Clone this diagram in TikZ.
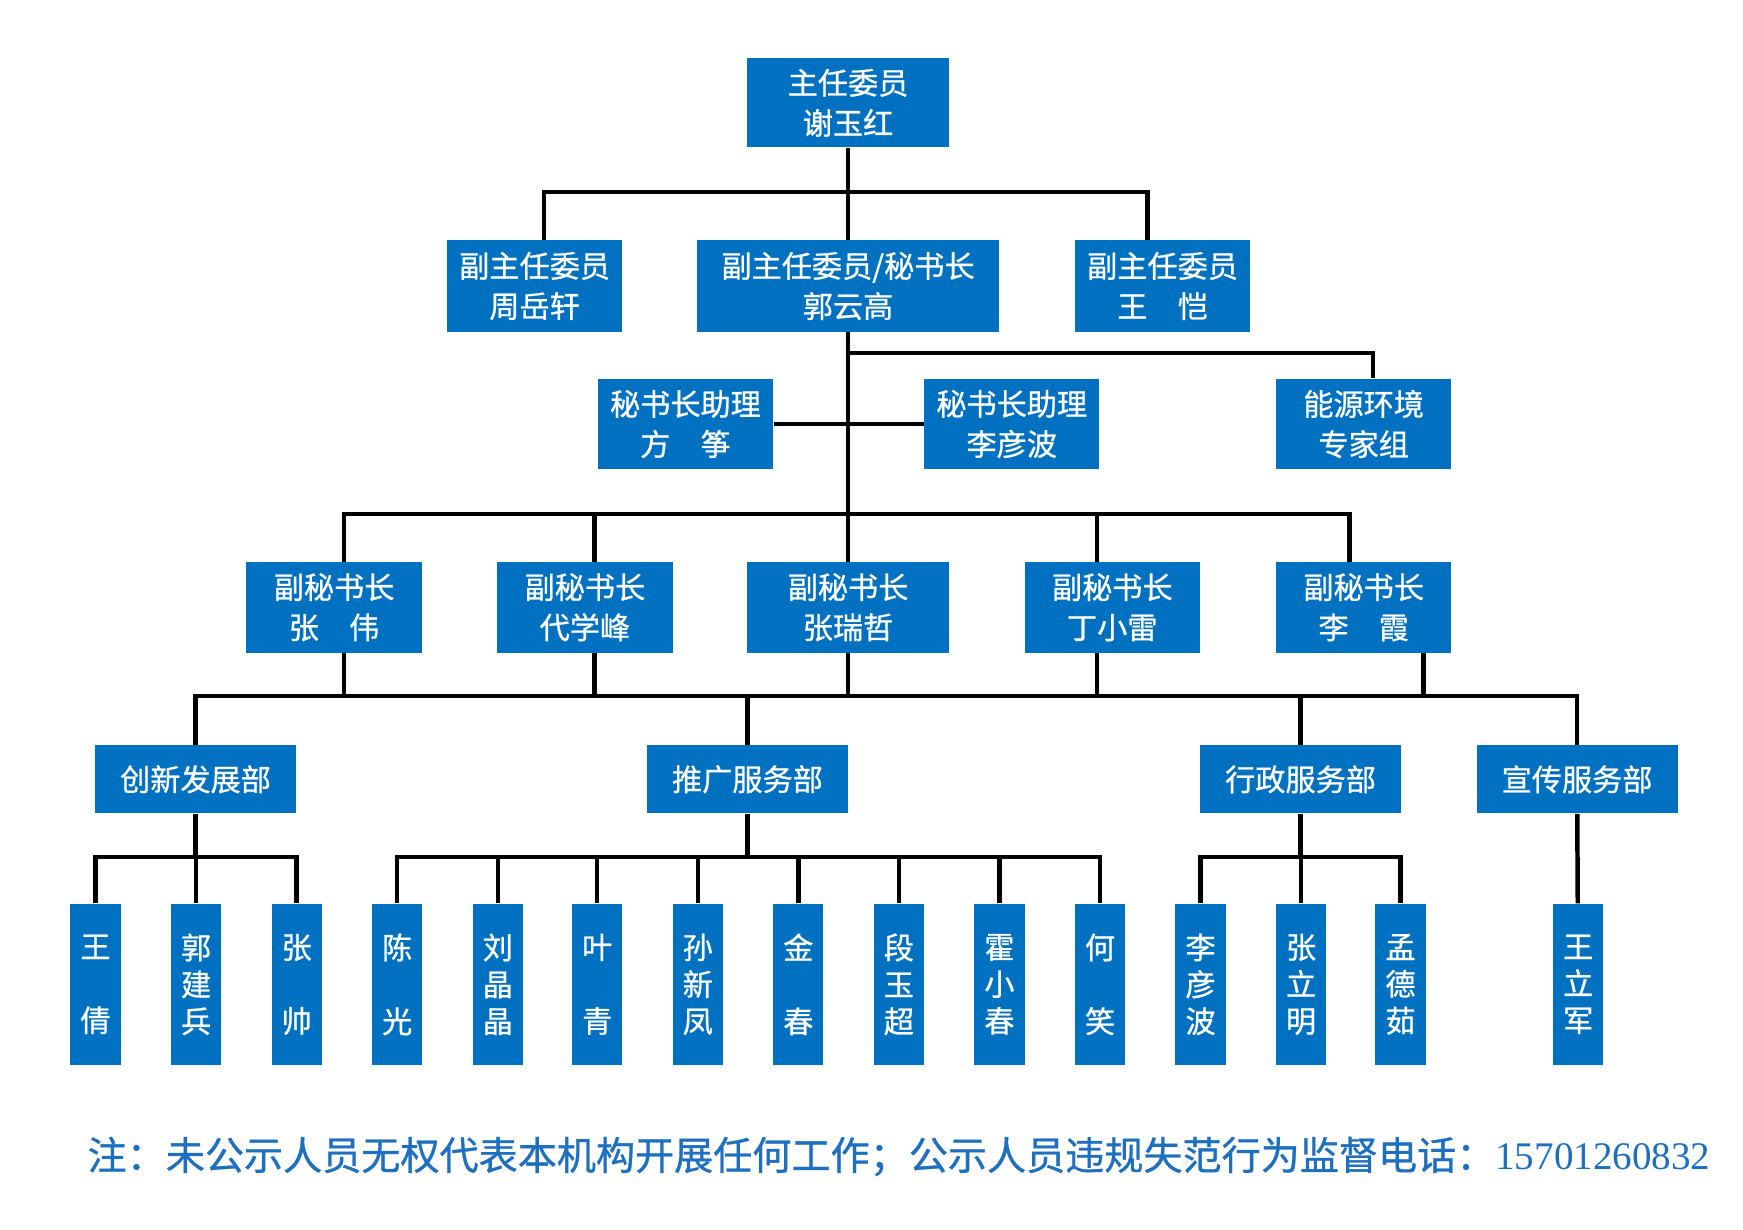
\documentclass[tikz,border=0pt]{standalone}
\usepackage{fontspec}
\setmainfont{Noto Sans CJK SC}[FakeBold=0.8]
\newfontfamily\numfont{Liberation Serif}
\definecolor{boxblue}{HTML}{0070C0}
\definecolor{noteblue}{HTML}{1E6FBF}
\begin{document}
\begin{tikzpicture}[x=0.5pt,y=-0.5pt,
  bx/.style={fill=boxblue,text=white,inner sep=0pt,align=center,
    font=\fontsize{13.5}{18}\selectfont},
  wide/.style={minimum width=90pt,minimum height=40.5pt},
  mid/.style={minimum width=78.5pt,minimum height=40.5pt},
  dept/.style={minimum width=90pt,minimum height=30.5pt},
  tall/.style={minimum width=22.5pt,minimum height=72pt,
    font=\fontsize{13.5}{16.5}\selectfont},
  conn/.style={line width=2pt,draw=black}]
\useasboundingbox (0,0) rectangle (1560,1100);
% level 0
\node[bx,minimum width=90pt,minimum height=40pt] (top) at (759,92) {主任委员\\谢玉红};
% level 1
\node[bx,mid,minimum height=41pt] (a1) at (478.5,256) {副主任委员\\周岳轩};
\node[bx,minimum width=135pt,minimum height=41pt] (a2) at (759,256) {副主任委员/秘书长\\郭云高};
\node[bx,mid,minimum height=41pt] (a3) at (1040.5,256) {副主任委员\\王\hspace{1em}恺};
% level 2
\node[bx,mid] (b1) at (613.5,379.5) {秘书长助理\\方\hspace{1em}筝};
\node[bx,mid] (b2) at (905.5,379.5) {秘书长助理\\李彦波};
\node[bx,mid] (b3) at (1220.5,379.5) {能源环境\\专家组};
% level 3
\node[bx,mid] (c1) at (299,543.5) {副秘书长\\张\hspace{1em}伟};
\node[bx,mid] (c2) at (523.5,543.5) {副秘书长\\代学峰};
\node[bx,wide] (c3) at (759,543.5) {副秘书长\\张瑞哲};
\node[bx,mid] (c4) at (995.5,543.5) {副秘书长\\丁小雷};
\node[bx,mid] (c5) at (1220.5,543.5) {副秘书长\\李\hspace{1em}霞};
% level 4
\node[bx,dept] (d1) at (175,697.5) {创新发展部};
\node[bx,dept] (d2) at (669,697.5) {推广服务部};
\node[bx,dept] (d3) at (1164,697.5) {行政服务部};
\node[bx,dept] (d4) at (1411.5,697.5) {宣传服务部};
% level 5
\node[bx,tall] (e1) at (85.5,881) {王\\\mbox{}\\倩};
\node[bx,tall] (e2) at (175.5,881) {郭\\建\\兵};
\node[bx,tall] (e3) at (265.5,881) {张\\\mbox{}\\帅};
\node[bx,tall] (e4) at (355.5,881) {陈\\\mbox{}\\光};
\node[bx,tall] (e5) at (445.5,881) {刘\\晶\\晶};
\node[bx,tall] (e6) at (534.5,881) {叶\\\mbox{}\\青};
\node[bx,tall] (e7) at (624.5,881) {孙\\新\\凤};
\node[bx,tall] (e8) at (714.5,881) {金\\\mbox{}\\春};
\node[bx,tall] (e9) at (804.5,881) {段\\玉\\超};
\node[bx,tall] (e10) at (894.5,881) {霍\\小\\春};
\node[bx,tall] (e11) at (984.5,881) {何\\\mbox{}\\笑};
\node[bx,tall] (e12) at (1074.5,881) {李\\彦\\波};
\node[bx,tall] (e13) at (1164.5,881) {张\\立\\明};
\node[bx,tall] (e14) at (1253.5,881) {孟\\德\\茹};
\node[bx,tall] (e15) at (1412.5,881) {王\\立\\军};
% note
\node[anchor=west,inner sep=0pt,text=noteblue,font=\fontsize{17.5}{20}\selectfont] (note) at (78,1035)
  {注：未公示人员无权代表本机构开展任何工作；公示人员违规失范行为监督电话：{\numfont 15701260832}};
% junction coordinates
\coordinate (j1a) at (487,172);
\coordinate (j1c) at (1027,172);
\coordinate (j2) at (1229,316);
\coordinate (k1) at (308,460);
\coordinate (k2) at (532,460);
\coordinate (k5) at (1208,460);
\coordinate (k4) at (982,460);
\coordinate (m1) at (308,623);
\coordinate (m2) at (532,623);
\coordinate (m4) at (982,623);
\coordinate (m5) at (1274,623);
\coordinate (bar5) at (0,767);
% connectors
\draw[conn] (top) -- (a2);
\draw[conn] (j1a |- a1.north) -- (j1a) -- (j1c) -- (j1c |- a3.north);
\draw[conn] (a2) -- (c3);
\draw[conn] (a2.south |- j2) -- (j2) -- (j2 |- b3.north);
\draw[conn] (b1) -- (b2);
\draw[conn] (k1 |- c1.north) -- (k1) -- (k5) -- (k5 |- c5.north);
\draw[conn] (k2) -- (k2 |- c2.north);
\draw[conn] (k4) -- (k4 |- c4.north);
\draw[conn] (m1 |- c1.south) -- (m1);
\draw[conn] (m2 |- c2.south) -- (m2);
\draw[conn] (c3.south) -- (c3.south |- m1);
\draw[conn] (m4 |- c4.south) -- (m4);
\draw[conn] (m5 |- c5.south) -- (m5);
\draw[conn] (d1.north) |- (d4.north |- m1) -- (d4.north);
\draw[conn] (d2.north) -- (d2.north |- m1);
\draw[conn] (d3.north) -- (d3.north |- m1);
\draw[conn] (d1.south) -- (d1.south |- bar5);
\draw[conn] (e1.north) |- (e3.north |- bar5) -- (e3.north);
\draw[conn] (e2.north) -- (e2.north |- bar5);
\draw[conn] (d2.south) -- (d2.south |- bar5);
\draw[conn] (e4.north) |- (e11.north |- bar5) -- (e11.north);
\foreach \i in {5,...,10} {\draw[conn] (e\i.north) -- (e\i.north |- bar5);}
\draw[conn] (d3.south) -- (d3.south |- bar5);
\draw[conn] (e12.north) |- (e14.north |- bar5) -- (e14.north);
\draw[conn] (e13.north) -- (e13.north |- bar5);
\draw[conn] (d4) -- (e15);
\end{tikzpicture}
\end{document}
